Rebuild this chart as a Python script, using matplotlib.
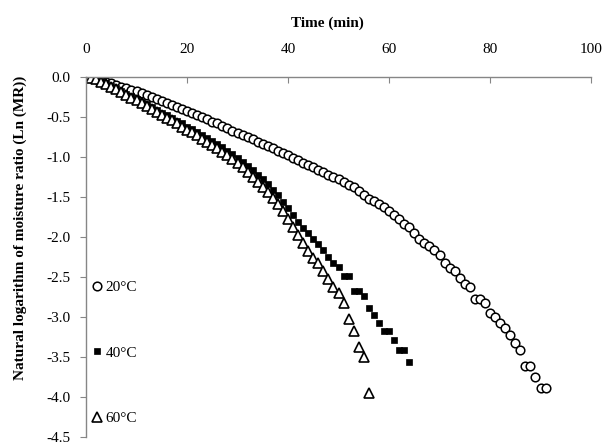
import matplotlib
matplotlib.use('Agg')
import matplotlib.pyplot as plt

plt.rcParams['font.family'] = ['Liberation Serif', 'DejaVu Serif']

# drying time (min) and ln(MR)
t20 = list(range(0, 92))
ln20 = [0.00, -0.01, -0.02, -0.04, -0.06, -0.08, -0.10, -0.12, -0.14, -0.16,
        -0.18, -0.20, -0.22, -0.25, -0.27, -0.30, -0.32, -0.35, -0.37, -0.40,
        -0.42, -0.45, -0.47, -0.50, -0.53, -0.56, -0.58, -0.61, -0.64, -0.67,
        -0.70, -0.72, -0.75, -0.78, -0.81, -0.84, -0.86, -0.89, -0.92, -0.95,
        -0.98, -1.01, -1.04, -1.07, -1.10, -1.13, -1.16, -1.19, -1.22, -1.25,
        -1.28, -1.31, -1.35, -1.38, -1.42, -1.47, -1.52, -1.55, -1.59, -1.62,
        -1.67, -1.73, -1.77, -1.84, -1.87, -1.95, -2.02, -2.08, -2.11, -2.16,
        -2.23, -2.33, -2.39, -2.43, -2.51, -2.59, -2.63, -2.78, -2.78, -2.83,
        -2.95, -3.00, -3.07, -3.14, -3.22, -3.32, -3.41, -3.61, -3.61, -3.75,
        -3.89, -3.89]

t40 = list(range(0, 65))
ln40 = [0.00, -0.01, -0.03, -0.05, -0.08, -0.11, -0.14, -0.17, -0.21, -0.24,
        -0.28, -0.31, -0.34, -0.38, -0.41, -0.45, -0.48, -0.51, -0.55, -0.58,
        -0.62, -0.65, -0.69, -0.72, -0.76, -0.80, -0.84, -0.88, -0.92, -0.96,
        -1.01, -1.06, -1.11, -1.16, -1.22, -1.28, -1.34, -1.41, -1.48, -1.56,
        -1.64, -1.73, -1.81, -1.89, -1.95, -2.03, -2.09, -2.16, -2.25, -2.32,
        -2.38, -2.49, -2.49, -2.67, -2.67, -2.74, -2.89, -2.97, -3.07, -3.17,
        -3.17, -3.29, -3.41, -3.41, -3.56]

t60 = list(range(0, 57))
ln60 = [0.00, -0.01, -0.03, -0.06, -0.09, -0.12, -0.15, -0.19, -0.22, -0.26,
        -0.29, -0.33, -0.36, -0.40, -0.44, -0.47, -0.51, -0.54, -0.58, -0.62,
        -0.66, -0.69, -0.73, -0.77, -0.81, -0.85, -0.89, -0.94, -0.98, -1.03,
        -1.08, -1.13, -1.19, -1.25, -1.31, -1.37, -1.44, -1.51, -1.59, -1.68,
        -1.78, -1.88, -1.98, -2.08, -2.17, -2.26, -2.33, -2.42, -2.52, -2.63,
        -2.70, -2.83, -3.02, -3.18, -3.37, -3.50, -3.95]

labels = ['20°C', '40°C', '60°C']
xticks = [0, 20, 40, 60, 80, 100]
yticks = [0.0, -0.5, -1.0, -1.5, -2.0, -2.5, -3.0, -3.5, -4.0, -4.5]

fig = plt.figure(figsize=(6.05, 4.43), dpi=100)
ax = fig.add_axes([86/605, 6/443, 505/605, 360/443])

ax.plot(t20, ln20, 'o', ms=6.2, mfc='white', mec='black', mew=1.1, label=labels[0])
ax.plot(t40, ln40, 's', ms=4.9, mfc='black', mec='black', mew=0.5, label=labels[1])
ax.plot(t60, ln60, '^', ms=7.0, mfc='white', mec='black', mew=1.2, label=labels[2])

ax.set_xlim(0, 100)
ax.set_ylim(-4.5, 0)
ax.set_xticks(xticks)
ax.set_yticks(yticks)
ax.set_yticklabels(['%.1f' % v for v in yticks])

# x axis on top, only top and left lines
ax.xaxis.tick_top()
for s in ['right', 'bottom']:
    ax.spines[s].set_visible(False)
for s in ['top', 'left']:
    ax.spines[s].set_color('#868686')
    ax.spines[s].set_linewidth(1.0)
ax.tick_params(axis='x', direction='in', length=4, color='#868686', pad=15, labelsize=11)
ax.tick_params(axis='y', direction='out', length=4, color='#868686', pad=7, labelsize=11)

fig.text(327/605, 1 - 23/443, 'Time (min)', ha='center', va='center',
         fontsize=11, fontweight='bold')
fig.text(20/605, 1 - 228/443, 'Natural logarithm of moisture ratio (Ln (MR))',
         rotation=90, ha='center', va='center', fontsize=11, fontweight='bold')

leg = ax.legend(loc='upper left', bbox_to_anchor=(0.012, 0.435), frameon=False,
                fontsize=11, handlelength=0.7, handletextpad=0.2,
                labelspacing=3.4, borderpad=0, borderaxespad=0, markerscale=1.0)

plt.savefig('out.png', dpi=100)
